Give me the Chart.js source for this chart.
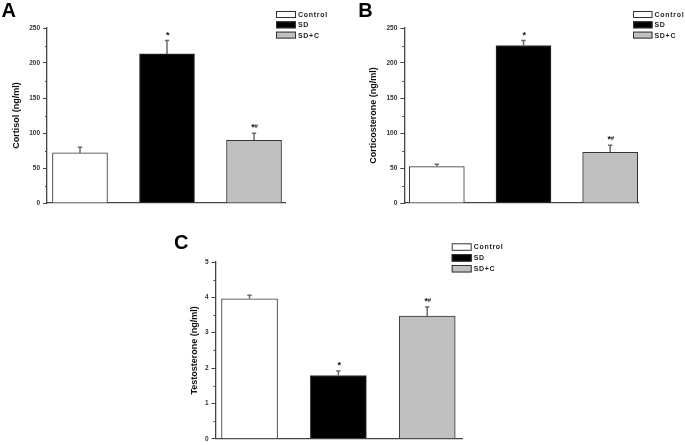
<!DOCTYPE html>
<html>
<head>
<meta charset="utf-8">
<script src="https://cdn.jsdelivr.net/npm/chart.js@4/dist/chart.umd.min.js"></script>
<style>
  html, body { margin: 0; padding: 0; background: #fff; width: 685px; height: 445px; overflow: hidden; }
  canvas { position: absolute; }
</style>
</head>
<body>
<canvas id="cA" width="340" height="215" style="left:0px;top:0px"></canvas>
<canvas id="cB" width="340" height="215" style="left:345px;top:0px"></canvas>
<canvas id="cC" width="340" height="215" style="left:170px;top:230px"></canvas>
<script>
// ---- data ----
const categories = ['Control', 'SD', 'SD+C'];
const categoryPositions = [1, 2, 3];
const cortisol = [71.5, 213, 89.5];
const cortisolErr = [8, 19, 10];
const corticosterone = [52, 225, 72.5];
const corticosteroneErr = [3.5, 7, 10];
const testosterone = [3.96, 1.79, 3.47];
const testosteroneErr = [0.1, 0.13, 0.26];
const significance = ['', '*', '*#'];
const cortisolTicks = [0, 50, 100, 150, 200, 250];
const corticosteroneTicks = [0, 50, 100, 150, 200, 250];
const testosteroneTicks = [0, 1, 2, 3, 4, 5];

// ---- styles ----
const FONT = '"Liberation Sans", Arial, sans-serif';
const fills = ['#ffffff', '#000000', '#c0c0c0'];
const AXIS = '#444444';

const panelPlugin = {
  id: 'panel',
  afterDatasetsDraw(chart, args, o) {
    const ctx = chart.ctx, xs = chart.scales.x, ys = chart.scales.y;
    ctx.save();
    chart.data.datasets.forEach((ds) => {
      ds.data.forEach((pt, j) => {
        const x = xs.getPixelForValue(pt.x);
        const yb = ys.getPixelForValue(pt.y);
        const yt = ys.getPixelForValue(pt.y + ds.errors[j]);
        ctx.strokeStyle = '#6a6a6a';
        ctx.lineWidth = 1.5;
        ctx.beginPath();
        ctx.moveTo(x, yb); ctx.lineTo(x, yt);
        ctx.moveTo(x - 2.2, yt); ctx.lineTo(x + 2.2, yt);
        ctx.stroke();
        const m = ds.marks[j];
        if (m) {
          ctx.fillStyle = '#111';
          ctx.textBaseline = 'alphabetic';
          if (m.length > 1) {
            ctx.textAlign = 'right';
            ctx.font = 'bold 9px ' + FONT;
            ctx.fillText(m[0], x + 0.8, yt - 3);
            ctx.textAlign = 'left';
            ctx.font = 'bold 6px ' + FONT;
            ctx.fillText(m.slice(1), x + 0.6, yt - 5);
          } else {
            ctx.textAlign = 'center';
            ctx.font = 'bold 9px ' + FONT;
            ctx.fillText(m, x + 0.8, yt - 2.5);
          }
        }
      });
    });
    ctx.restore();
  },
  afterDraw(chart, args, o) {
    const ctx = chart.ctx, ys = chart.scales.y;
    ctx.save();
    // minor ticks
    ctx.strokeStyle = AXIS; ctx.lineWidth = 1;
    const t = ys.ticks;
    for (let i = 0; i < t.length - 1; i++) {
      const y = Math.round(ys.getPixelForValue((t[i].value + t[i + 1].value) / 2)) + 0.5;
      ctx.beginPath(); ctx.moveTo(ys.right - 2, y); ctx.lineTo(ys.right, y); ctx.stroke();
    }
    // panel letter
    ctx.fillStyle = '#000';
    ctx.font = 'bold 20px ' + FONT;
    ctx.textAlign = 'left'; ctx.textBaseline = 'alphabetic';
    ctx.fillText(o.letter, o.letterX, o.letterY);
    // legend
    ctx.font = 'bold 7px ' + FONT;
    ctx.letterSpacing = '0.7px';
    ctx.textBaseline = 'middle';
    chart.data.datasets.forEach((ds, i) => {
      const y = o.legY + i * o.legStep;
      ctx.fillStyle = ds.backgroundColor;
      ctx.fillRect(o.legX, y, o.legW, o.legH);
      ctx.strokeStyle = '#333'; ctx.lineWidth = 1;
      ctx.strokeRect(o.legX + 0.5, y + 0.5, o.legW - 1, o.legH - 1);
      ctx.fillStyle = '#222';
      ctx.fillText(ds.label, o.legX + o.legW + 2, y + o.legH / 2 + 0.5);
    });
    ctx.restore();
  }
};

function makePanel(id, values, errors, ticks, title, lay, xr, panelOpts) {
  const datasets = categories.map((c, i) => ({
    label: c,
    data: [{ x: categoryPositions[i], y: values[i] }],
    errors: [errors[i]],
    marks: [significance[i]],
    backgroundColor: fills[i],
    borderColor: '#333',
    borderWidth: 1,
    barThickness: lay.bw,
    grouped: false
  }));
  return new Chart(document.getElementById(id), {
    type: 'bar',
    data: { datasets },
    plugins: [panelPlugin],
    options: {
      responsive: false,
      animation: false,
      events: [],
      layout: { padding: { left: lay.pl, top: lay.pt, right: lay.pr, bottom: lay.pb } },
      plugins: { legend: { display: false }, tooltip: { enabled: false }, panel: panelOpts },
      scales: {
        x: {
          type: 'linear', min: xr[0], max: xr[1], offset: false,
          ticks: { display: false },
          grid: { display: false, drawTicks: false },
          border: { display: true, color: AXIS, width: 1.3 },
          afterFit: s => { s.height = 0; }
        },
        y: {
          min: ticks[0], max: ticks[ticks.length - 1],
          afterBuildTicks: s => { s.ticks = ticks.map(v => ({ value: v })); },
          ticks: { color: '#333', padding: 3, font: { family: FONT, size: 6.5, weight: 'bold', lineHeight: 1 } },
          grid: { display: true, drawOnChartArea: false, drawTicks: true, tickLength: 4, tickColor: AXIS, tickWidth: 1 },
          border: { display: true, color: AXIS, width: 1.3 },
          title: { display: true, text: title, color: '#111', padding: 0, font: { family: FONT, size: 9, weight: 'bold' } },
          afterFit: s => { s.width = lay.yw; }
        }
      }
    }
  });
}

makePanel('cA', cortisol, cortisolErr, cortisolTicks, 'Cortisol (ng/ml)',
  { pl: 11.3, pt: 28, pr: 55, pb: 12, yw: 35.7, bw: 55 }, [0.621, 3.356],
  { letter: 'A', letterX: 1.5, letterY: 16.7, legX: 276, legY: 11, legStep: 10.3, legW: 20, legH: 7 });

makePanel('cB', corticosterone, corticosteroneErr, corticosteroneTicks, 'Corticosterone (ng/ml)',
  { pl: 22.9, pt: 28, pr: 47, pb: 12, yw: 36.4, bw: 55 }, [0.625, 3.321],
  { letter: 'B', letterX: 13.3, letterY: 17.3, legX: 288, legY: 11, legStep: 10.3, legW: 19.5, legH: 7 });

makePanel('cC', testosterone, testosteroneErr, testosteroneTicks, 'Testosterone (ng/ml)',
  { pl: 19.6, pt: 32, pr: 47.7, pb: 3.3, yw: 25.9, bw: 56 }, [0.617, 3.395],
  { letter: 'C', letterX: 4, letterY: 249 - 230, legX: 281.7, legY: 13.3, legStep: 10.85, legW: 20, legH: 7.5 });
</script>
</body>
</html>
